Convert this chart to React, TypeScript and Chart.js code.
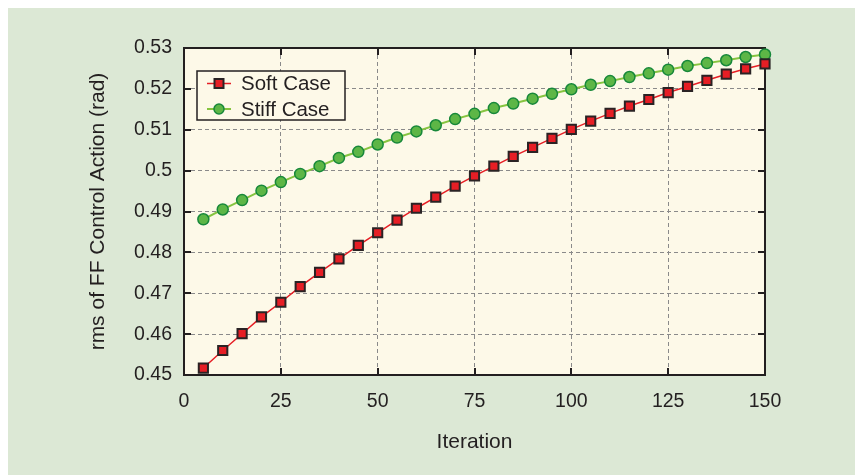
import React, { useEffect, useRef } from "react";
import { Chart, registerables } from "chart.js";

Chart.register(...registerables);

const iterations = [5, 10, 15, 20, 25, 30, 35, 40, 45, 50, 55, 60, 65, 70, 75, 80, 85, 90, 95, 100, 105, 110, 115, 120, 125, 130, 135, 140, 145, 150];

const softCase = [0.4517, 0.456, 0.4601, 0.4642, 0.4678, 0.4716, 0.4751, 0.4784, 0.4817, 0.4848, 0.4879, 0.4908, 0.4935, 0.4962, 0.4987, 0.5011, 0.5035, 0.5057, 0.5079, 0.5101, 0.5121, 0.514, 0.5158, 0.5174, 0.5191, 0.5206, 0.5221, 0.5236, 0.5249, 0.5261];

const stiffCase = [0.4881, 0.4905, 0.4928, 0.4951, 0.4972, 0.4992, 0.5011, 0.5031, 0.5046, 0.5064, 0.5081, 0.5096, 0.5111, 0.5126, 0.5139, 0.5153, 0.5164, 0.5176, 0.5188, 0.5199, 0.521, 0.5219, 0.5229, 0.5238, 0.5247, 0.5256, 0.5263, 0.527, 0.5278, 0.5284];

const seriesLabels = ["Soft Case", "Stiff Case"];
const xTicks = [0, 25, 50, 75, 100, 125, 150];
const yTicks = [0.45, 0.46, 0.47, 0.48, 0.49, 0.5, 0.51, 0.52, 0.53];
const xTitle = "Iteration";
const yTitle = "rms of FF Control Action (rad)";

const FONT = "'Liberation Sans', Arial, Helvetica, sans-serif";
const TEXT = "#231f20";
const FRAME = "#231f20";
const PANEL_BG = "#dce8d5";
const PLOT_BG = "#fdf9e8";
const RED = "#e61e25";
const GREEN_LINE = "#86c440";
const GREEN_FILL = "#5db646";
const GREEN_EDGE = "#17883a";
const GRID = "#8a8a8a";

const W = 847;
const H = 467;

const framePlugin = {
  id: "framePlugin",
  beforeDraw(chart: any) {
    const { ctx, chartArea } = chart;
    ctx.save();
    ctx.fillStyle = PLOT_BG;
    ctx.fillRect(chartArea.left, chartArea.top, chartArea.right - chartArea.left, chartArea.bottom - chartArea.top);
    ctx.restore();
  },
  beforeDatasetsDraw(chart: any) {
    const { ctx, chartArea, scales } = chart;
    const { left, right, top, bottom } = chartArea;
    ctx.save();
    ctx.strokeStyle = FRAME;
    ctx.lineWidth = 2;
    const tl = 7;
    ctx.beginPath();
    for (const v of xTicks) {
      const x = Math.round(scales.x.getPixelForValue(v));
      if (x <= left + 1 || x >= right - 1) continue;
      ctx.moveTo(x, bottom);
      ctx.lineTo(x, bottom - tl);
      ctx.moveTo(x, top);
      ctx.lineTo(x, top + tl);
    }
    for (const v of yTicks) {
      const y = Math.round(scales.y.getPixelForValue(v));
      if (y <= top + 1 || y >= bottom - 1) continue;
      ctx.moveTo(left, y);
      ctx.lineTo(left + tl, y);
      ctx.moveTo(right, y);
      ctx.lineTo(right - tl, y);
    }
    ctx.stroke();
    ctx.strokeRect(left, top, right - left, bottom - top);
    ctx.restore();
  },
  afterDraw(chart: any) {
    const { ctx, chartArea } = chart;
    const bx = chartArea.left + 13;
    const by = chartArea.top + 23;
    const bw = 148;
    const bh = 49;
    ctx.save();
    ctx.fillStyle = PLOT_BG;
    ctx.fillRect(bx, by, bw, bh);
    ctx.strokeStyle = FRAME;
    ctx.lineWidth = 1.5;
    ctx.strokeRect(bx, by, bw, bh);
    const rows = [by + 12.5, by + 38];
    chart.data.datasets.forEach((ds: any, i: number) => {
      const y = rows[i];
      ctx.strokeStyle = ds.borderColor;
      ctx.lineWidth = ds.borderWidth;
      ctx.beginPath();
      ctx.moveTo(bx + 10, y);
      ctx.lineTo(bx + 34, y);
      ctx.stroke();
      const cx = bx + 22;
      ctx.fillStyle = ds.pointBackgroundColor;
      ctx.strokeStyle = ds.pointBorderColor;
      ctx.lineWidth = ds.pointBorderWidth;
      ctx.beginPath();
      if (ds.pointStyle === "rect") {
        ctx.rect(cx - 4.5, y - 4.5, 9, 9);
      } else {
        ctx.arc(cx, y, 5, 0, Math.PI * 2);
      }
      ctx.fill();
      ctx.stroke();
      ctx.fillStyle = TEXT;
      ctx.font = `20.5px ${FONT}`;
      ctx.textBaseline = "middle";
      ctx.textAlign = "left";
      ctx.fillText(ds.label, bx + 44, y + 1);
    });
    ctx.restore();
  },
};

export default function App() {
  const ref = useRef<HTMLCanvasElement | null>(null);

  useEffect(() => {
    if (!ref.current) return;
    const chart = new Chart(ref.current, {
      type: "line",
      data: {
        datasets: [
          {
            label: seriesLabels[0],
            data: iterations.map((x, i) => ({ x, y: softCase[i] })),
            borderColor: RED,
            borderWidth: 1.5,
            pointStyle: "rect",
            pointRadius: 6.5,
            pointBackgroundColor: RED,
            pointBorderColor: "#2a2324",
            pointBorderWidth: 2,
            tension: 0,
            clip: false,
          } as any,
          {
            label: seriesLabels[1],
            data: iterations.map((x, i) => ({ x, y: stiffCase[i] })),
            borderColor: GREEN_LINE,
            borderWidth: 2,
            pointStyle: "circle",
            pointRadius: 5.5,
            pointBackgroundColor: GREEN_FILL,
            pointBorderColor: GREEN_EDGE,
            pointBorderWidth: 1.5,
            tension: 0,
            clip: false,
          } as any,
        ],
      },
      options: {
        animation: false,
        responsive: false,
        maintainAspectRatio: false,
        layout: { padding: { top: 40, right: 90, bottom: 0, left: 0 } },
        plugins: { legend: { display: false }, tooltip: { enabled: false } },
        scales: {
          x: {
            type: "linear",
            min: 0,
            max: 150,
            afterFit: (s: any) => {
              s.height = 100;
            },
            afterBuildTicks: (s: any) => {
              s.ticks = xTicks.map((v) => ({ value: v }));
            },
            ticks: {
              color: TEXT,
              font: { family: FONT, size: 19.5 },
              padding: 15,
              maxRotation: 0,
              callback: (v: any) => String(v),
            },
            grid: {
              color: (c: any) => (c.tick && (c.tick.value === 0 || c.tick.value === 150) ? "rgba(0,0,0,0)" : GRID),
              lineWidth: 1,
              drawTicks: false,
            },
            border: { display: false, dash: [4, 3] },
            title: {
              display: true,
              text: xTitle,
              color: TEXT,
              font: { family: FONT, size: 21 },
              padding: { top: 0, bottom: 20 },
            },
          },
          y: {
            type: "linear",
            min: 0.45,
            max: 0.53,
            afterFit: (s: any) => {
              s.width = 176;
            },
            afterBuildTicks: (s: any) => {
              s.ticks = yTicks.map((v) => ({ value: v }));
            },
            ticks: {
              color: TEXT,
              font: { family: FONT, size: 19.5 },
              padding: 12,
              callback: (v: any) => String(Math.round(v * 100) / 100),
            },
            grid: {
              color: (c: any) => (c.tick && (Math.abs(c.tick.value - 0.45) < 1e-9 || Math.abs(c.tick.value - 0.53) < 1e-9) ? "rgba(0,0,0,0)" : GRID),
              lineWidth: 1,
              drawTicks: false,
            },
            border: { display: false, dash: [4, 3] },
            title: {
              display: true,
              text: yTitle,
              color: TEXT,
              font: { family: FONT, size: 21 },
              padding: { top: 78, bottom: 0 },
            },
          },
        },
      },
      plugins: [framePlugin],
    });
    return () => chart.destroy();
  }, []);

  return (
    <div style={{ width: W + 4, height: H, background: PANEL_BG }}>
      <canvas ref={ref} width={W} height={H} style={{ display: "block", width: W, height: H }} />
    </div>
  );
}
